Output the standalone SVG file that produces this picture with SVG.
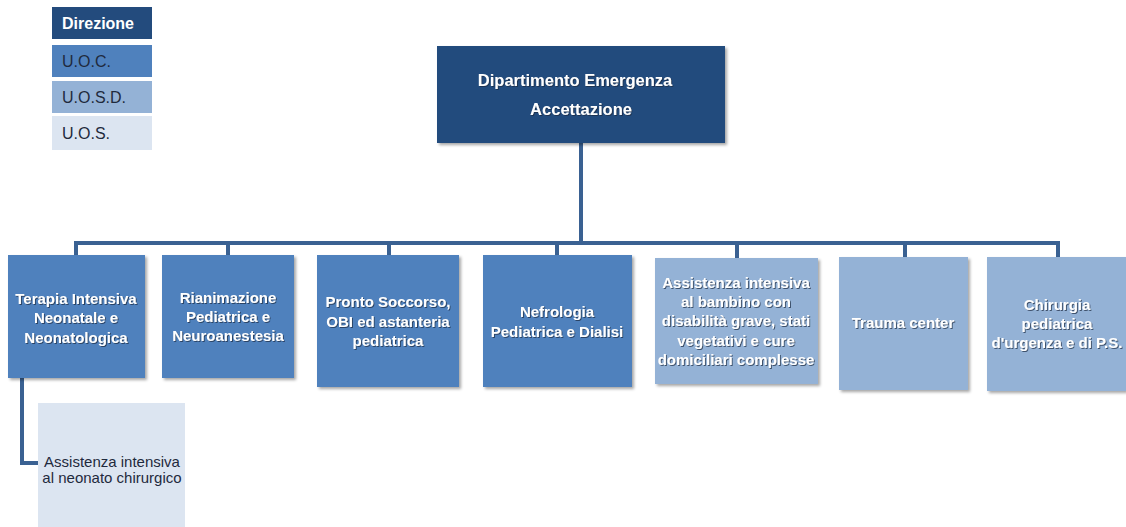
<svg xmlns="http://www.w3.org/2000/svg" width="1126" height="527" viewBox="0 0 1126 527">
<defs>
<filter id="bs" x="-10%" y="-10%" width="125%" height="125%"><feDropShadow dx="2" dy="2" stdDeviation="1.8" flood-color="#000" flood-opacity="0.35"/></filter>
<filter id="ts" x="-5%" y="-20%" width="110%" height="150%"><feDropShadow dx="1" dy="1" stdDeviation="0.6" flood-color="#1a2a40" flood-opacity="0.7"/></filter>
</defs>
<style>
.dir{fill:#234b7d}
.uoc{fill:#4f81bd}
.uosd{fill:#94b2d6}
.uos{fill:#dce5f1}
.wt{font-family:"Liberation Sans",Arial,sans-serif;font-weight:bold;font-size:15px;fill:#fff;text-anchor:middle}
.big{font-size:16.5px}
.dt{font-family:"Liberation Sans",Arial,sans-serif;font-size:15px;fill:#1f2a3d}
.lg{font-size:16px}
.conn{fill:none;stroke:#3a6192;stroke-width:4}
</style>
<g id="legend">
<rect class="dir" x="52" y="7" width="100" height="32"/>
<text x="62" y="29" font-family="Liberation Sans,Arial,sans-serif" font-weight="bold" font-size="16" fill="#fff">Direzione</text>
<rect class="uoc" x="52" y="45" width="100" height="32"/>
<text class="dt lg" x="62" y="67">U.O.C.</text>
<rect class="uosd" x="52" y="81" width="100" height="32"/>
<text class="dt lg" x="62" y="103">U.O.S.D.</text>
<rect class="uos" x="52" y="116" width="100" height="34"/>
<text class="dt lg" x="62" y="139">U.O.S.</text>
</g>
<g id="connectors">
<path class="conn" d="M581,143 V243"/>
<path class="conn" d="M76,255 V243 H1058 V257"/>
<path class="conn" d="M228,243 V255 M389,243 V255 M557,243 V255 M737,243 V258 M905,243 V257"/>
<path class="conn" d="M22,378 V463 H38"/>
</g>
<g id="dept">
<rect class="dir" x="437" y="46" width="288" height="97" filter="url(#bs)"/>
<g filter="url(#ts)">
<text class="wt big" x="575" y="86">Dipartimento Emergenza</text>
<text class="wt big" x="581" y="115">Accettazione</text>
</g>
</g>
<g id="n1">
<rect class="uoc" x="8" y="255" width="137" height="123" filter="url(#bs)"/>
<g filter="url(#ts)">
<text class="wt" x="76" y="304">Terapia Intensiva</text>
<text class="wt" x="76" y="323">Neonatale e</text>
<text class="wt" x="76" y="343">Neonatologica</text>
</g>
</g>
<g id="n2">
<rect class="uoc" x="162" y="255" width="132" height="123" filter="url(#bs)"/>
<g filter="url(#ts)">
<text class="wt" x="228" y="303">Rianimazione</text>
<text class="wt" x="228" y="322">Pediatrica e</text>
<text class="wt" x="228" y="341">Neuroanestesia</text>
</g>
</g>
<g id="n3">
<rect class="uoc" x="317" y="255" width="142" height="132" filter="url(#bs)"/>
<g filter="url(#ts)">
<text class="wt" x="388" y="307">Pronto Soccorso,</text>
<text class="wt" x="388" y="327">OBI ed astanteria</text>
<text class="wt" x="388" y="346">pediatrica</text>
</g>
</g>
<g id="n4">
<rect class="uoc" x="483" y="255" width="149" height="132" filter="url(#bs)"/>
<g filter="url(#ts)">
<text class="wt" x="557" y="317">Nefrologia</text>
<text class="wt" x="557" y="337">Pediatrica e Dialisi</text>
</g>
</g>
<g id="n5">
<rect class="uosd" x="655" y="258" width="163" height="126" filter="url(#bs)"/>
<g filter="url(#ts)">
<text class="wt" x="736" y="288">Assistenza intensiva</text>
<text class="wt" x="736" y="307">al bambino con</text>
<text class="wt" x="736" y="326">disabilità grave, stati</text>
<text class="wt" x="736" y="346">vegetativi e cure</text>
<text class="wt" x="736" y="365">domiciliari complesse</text>
</g>
</g>
<g id="n6">
<rect class="uosd" x="839" y="257" width="129" height="133" filter="url(#bs)"/>
<g filter="url(#ts)">
<text class="wt" x="903" y="328">Trauma center</text>
</g>
</g>
<g id="n7">
<rect class="uosd" x="987" y="257" width="139" height="134" filter="url(#bs)"/>
<g filter="url(#ts)">
<text class="wt" x="1057" y="310">Chirurgia</text>
<text class="wt" x="1057" y="329">pediatrica</text>
<text class="wt" x="1057" y="348">d'urgenza e di P.S.</text>
</g>
</g>
<g id="n8">
<rect class="uos" x="38" y="403" width="147" height="130"/>
<text class="dt" x="112" y="467" text-anchor="middle">Assistenza intensiva</text>
<text class="dt" x="112" y="483" text-anchor="middle">al neonato chirurgico</text>
</g>
</svg>
